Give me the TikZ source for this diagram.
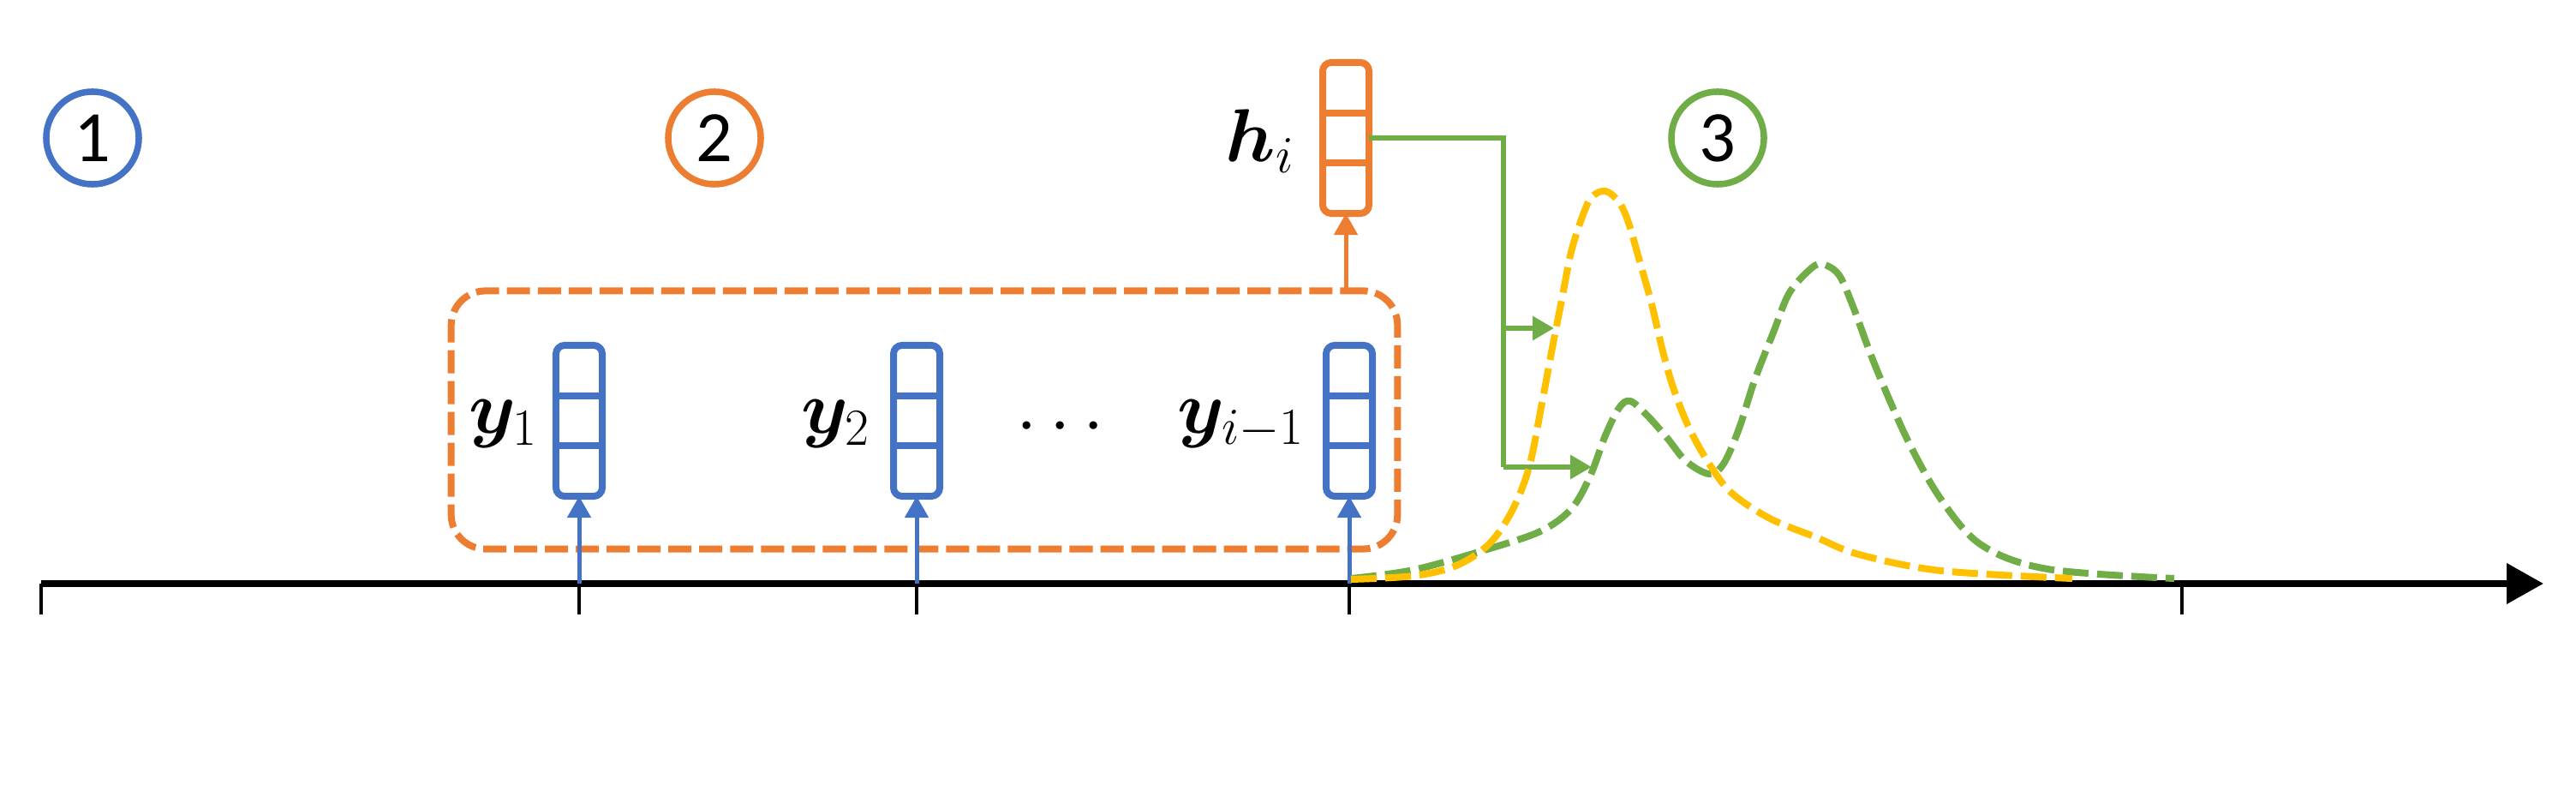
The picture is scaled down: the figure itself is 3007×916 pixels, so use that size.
\documentclass[tikz,border=0pt]{standalone}
\usepackage[no-math]{fontspec}
\usepackage{bm}
\newfontfamily\numfont{Carlito}
\DeclareMathSizes{25}{25}{16.5}{12}
\usetikzlibrary{arrows.meta,calc}
\definecolor{oblue}{HTML}{4472C4}
\definecolor{oorange}{HTML}{ED7D31}
\definecolor{ogreen}{HTML}{70AD47}
\definecolor{oyellow}{HTML}{FFC000}
\newcommand\vcells[2]{%
  \draw[#2,line width=0.08cm] ($(#1.north west)!1/3!(#1.south west)$) -- ($(#1.north east)!1/3!(#1.south east)$);
  \draw[#2,line width=0.08cm] ($(#1.north west)!2/3!(#1.south west)$) -- ($(#1.north east)!2/3!(#1.south east)$);}
\begin{document}
\begin{tikzpicture}[x=0.01cm,y=-0.01cm,
  vecbox/.style={draw,line width=0.08cm,rounded corners=0.1cm,minimum width=0.54cm,minimum height=1.76cm,inner sep=0pt,outer sep=0pt},
  numcirc/.style={circle,line width=0.075cm,minimum size=1.08cm,inner sep=0pt,font=\numfont\fontsize{24}{28}\selectfont},
  lab/.style={anchor=east,inner sep=0pt,font=\fontsize{25}{30}\selectfont},
  grpbox/.style={draw=oorange,line width=0.08cm,dash pattern=on 0.27cm off 0.09cm,rounded corners=0.4cm,minimum width=11.04cm,minimum height=3.01cm,inner sep=0pt,outer sep=0pt},
  tip/.style={-{Triangle[length=0.25cm,width=0.27cm]}},
  barrow/.style={tip,draw=oblue,fill=oblue,line width=0.05cm},
  oarrow/.style={tip,draw=oorange,fill=oorange,line width=0.05cm},
  gline/.style={draw=ogreen,line width=0.06cm},
  garrow/.style={tip,draw=ogreen,fill=ogreen,line width=0.06cm},
  curve/.style={line width=0.08cm,dash pattern=on 0.3cm off 0.1cm},
  tick/.style={line width=0.045cm}]
\useasboundingbox (0,0) rectangle (3007,916);
% axis
\coordinate (a0) at (48,681);
\coordinate (a1) at (2969,681);
\coordinate (t1) at (676,681);
\coordinate (t2) at (1070,681);
\coordinate (t3) at (1575,681);
\coordinate (t4) at (2547,681);
\draw[line width=0.075cm,-{Triangle[length=0.43cm,width=0.46cm]}] (a0) -- (a1);
\foreach \t in {a0,t1,t2,t3,t4} \draw[tick] (\t) -- ++(0,36);
% circles
\node[numcirc,draw=oblue] (c1) at (108,161) {1};
\node[numcirc,draw=oorange] (c2) at (834,161) {2};
\node[numcirc,draw=ogreen] (c3) at (2005,161) {3};
% group box
\node[grpbox] (grp) at (1079,490) {};
% vectors
\node[vecbox,draw=oblue] (v1) at (676,491) {};
\node[vecbox,draw=oblue] (v2) at (1070,491) {};
\node[vecbox,draw=oblue] (v3) at (1575,491) {};
\vcells{v1}{oblue}\vcells{v2}{oblue}\vcells{v3}{oblue}
\node[vecbox,draw=oorange] (h) at (1571,161) {};
\vcells{h}{oorange}
% labels
\node[lab] (ly1) at ([xshift=-0.2cm,yshift=-0.04cm]v1.west) {$\bm{y}_1$};
\node[lab] (ly2) at ([xshift=-0.26cm,yshift=-0.04cm]v2.west) {$\bm{y}_2$};
\node[lab] (ly3) at ([xshift=-0.24cm,yshift=-0.04cm]v3.west) {$\bm{y}_{i-1}$};
\node[inner sep=0pt,font=\fontsize{24}{28}\selectfont] (dots) at (1238,499) {$\cdots$};
\node[lab] (lh) at ([xshift=-0.32cm,yshift=-0.04cm]h.west) {$\bm{h}_i$};
% arrows into vectors
\draw[barrow] (t1) -- (v1.south);
\draw[barrow] (t2) -- (v2.south);
\draw[barrow] (t3) -- (v3.south);
\draw[oarrow] (h.south |- grp.north) -- (h.south);
% green connector
\coordinate (gb) at (1755,161);
\coordinate (gm) at (1755,383);
\coordinate (gd) at (1755,545);
\coordinate (gt1) at (1814,383);
\coordinate (gt2) at (1858,545);
\draw[gline] (h.east) -- (gb) -- (gd);
\draw[garrow] (gm) -- (gt1);
\draw[garrow] (gd) -- (gt2);
% distributions
\draw[curve,ogreen] plot[smooth,tension=0.55] coordinates {(1577,675) (1650,665) (1736,641) (1798,620) (1834,594) (1856,556) (1874,508) (1890,476) (1903,468) (1923,485) (1946,511) (1968,538) (1995,553) (2012,541) (2030,500) (2048,444) (2070,388) (2088,343) (2111,316) (2126,308) (2146,320) (2162,355) (2189,427) (2227,514) (2266,583) (2313,636) (2390,664) (2538,675)};
\draw[curve,oyellow] plot[smooth,tension=0.55] coordinates {(1577,676) (1650,672) (1700,660) (1738,635) (1765,596) (1785,545) (1800,470) (1812,406) (1823,350) (1834,294) (1847,253) (1858,230) (1874,223) (1890,236) (1901,260) (1914,305) (1928,355) (1941,410) (1954,455) (1972,500) (1995,541) (2021,575) (2066,605) (2120,627) (2170,647) (2266,666) (2419,675)};
\end{tikzpicture}
\end{document}
